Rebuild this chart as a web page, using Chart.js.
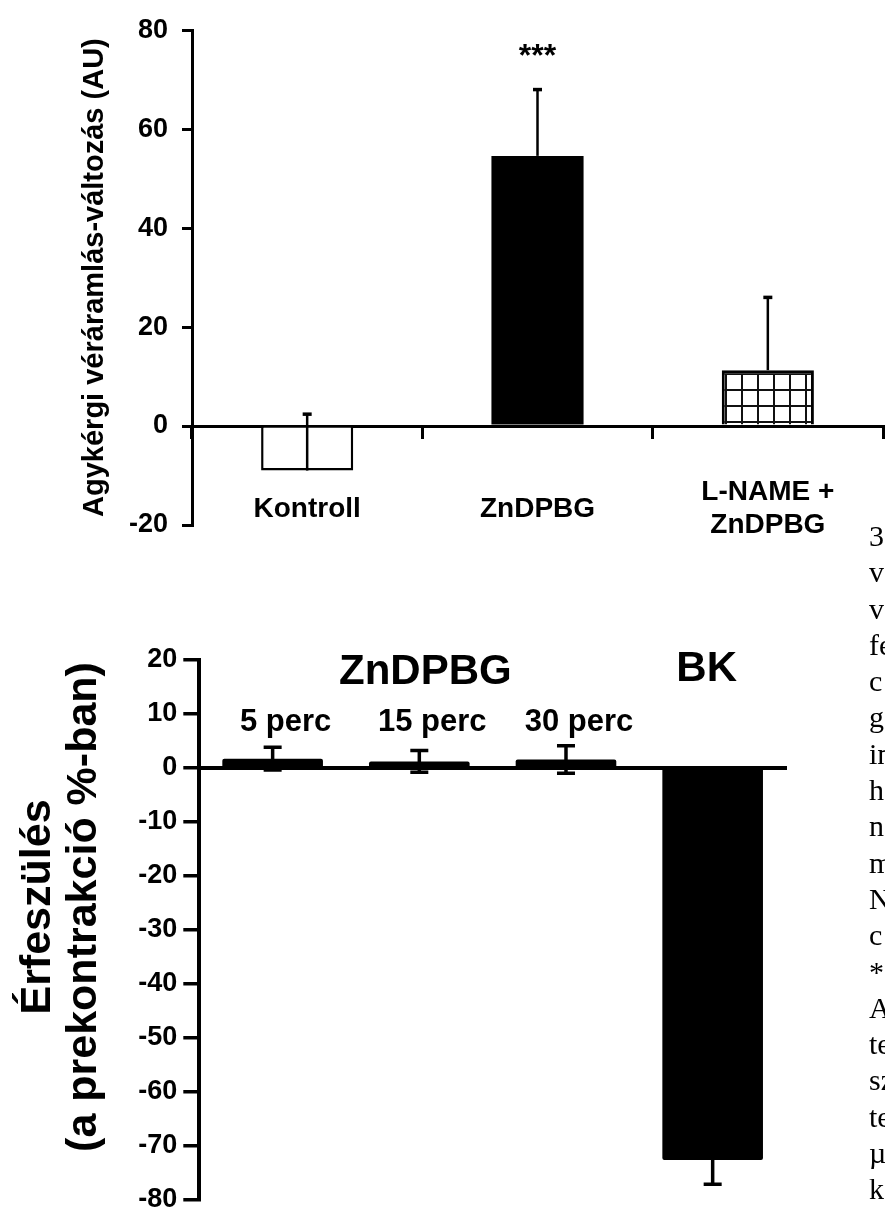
<!DOCTYPE html>
<html lang="hu">
<head>
<meta charset="utf-8">
<title>ZnDPBG – véráramlás és érfeszülés</title>
<script src="https://cdn.jsdelivr.net/npm/chart.js@4.4.1/dist/chart.umd.min.js"></script>
<style>
  html, body { margin: 0; padding: 0; background: #fff; overflow: hidden; }
  #page { position: relative; width: 885px; height: 1210px; overflow: hidden; }
  #top-chart    { position: absolute; left: 0; top: 0; }
  #bottom-chart { position: absolute; left: 0; top: 560px; }
  #side-text {
    position: absolute; left: 869px; top: 518px;
    font-family: "Liberation Serif", "Times New Roman", serif;
    font-size: 30px; line-height: 36.3px; color: #000; white-space: nowrap;
  }
</style>
</head>
<body>
<div id="page">
  <canvas id="top-chart" width="885" height="560"></canvas>
  <canvas id="bottom-chart" width="885" height="680"></canvas>
  <div id="side-text"></div>
</div>
<script>
// ── Data: top chart (cortical blood flow change) ───────────
const topLabels = ["Kontroll", "ZnDPBG", ["L-NAME +", "ZnDPBG"]];
const topValues = [-9.0, 54.6, 11.3];
const topErrors = [11.4, 13.4, 14.7];
const topSig    = ["", "***", ""];

// ── Data: bottom chart (vessel relaxation) ─────────────────
const botLabels    = ["5 perc", "15 perc", "30 perc", "BK"];
const botSubLabels = ["5 perc", "15 perc", "30 perc", ""];
const botValues    = [1.7, 1.2, 1.55, -72.7];
const botErrors    = [2.1, 2.0, 2.55, 4.5];
const botGroups    = [
    { text: "ZnDPBG", from: 0, to: 2 },
    { text: "BK",     from: 3, to: 3 },
];

// cut-off body text at the right page edge
const sideLines = ["3", "v", "v", "fe", "c", "g", "in", "h", "n", "m", "N",
                   "c", "*", "A", "te", "sz", "te", "µ", "k", "i"];

const FONT = "'Liberation Sans', Arial, Helvetica, sans-serif";
Chart.defaults.font.family = FONT;
Chart.defaults.color = "#000";

document.getElementById("side-text").innerHTML =
    sideLines.map(t => `<div>${t}</div>`).join("");

// ── Plugins ────────────────────────────────────────────────
const errorBars = {
    id: "errorBars",
    afterDatasetsDraw(chart, args, opts) {
        const { ctx, scales: { y } } = chart;
        const meta = chart.getDatasetMeta(0);
        const data = chart.data.datasets[0].data;
        ctx.save();
        ctx.strokeStyle = "#000";
        meta.data.forEach((bar, i) => {
            const v = data[i], e = opts.errors[i];
            const yHi = y.getPixelForValue(v + e);
            const yLo = y.getPixelForValue(opts.upOnly ? v : v - e);
            ctx.lineWidth = opts.lineWidth;
            ctx.beginPath();
            ctx.moveTo(bar.x, yLo);
            ctx.lineTo(bar.x, yHi);
            ctx.stroke();
            ctx.lineWidth = opts.capLine;
            ctx.beginPath();
            ctx.moveTo(bar.x - opts.cap / 2, yHi);
            ctx.lineTo(bar.x + opts.cap / 2, yHi);
            if (!opts.upOnly) {
                ctx.moveTo(bar.x - opts.cap / 2, yLo);
                ctx.lineTo(bar.x + opts.cap / 2, yLo);
            }
            ctx.stroke();
        });
        ctx.restore();
    },
};

const sigMarks = {
    id: "sigMarks",
    afterDatasetsDraw(chart, args, opts) {
        const { ctx, scales: { y } } = chart;
        const meta = chart.getDatasetMeta(0);
        const data = chart.data.datasets[0].data;
        ctx.save();
        ctx.font = opts.font;
        ctx.fillStyle = "#000";
        ctx.textAlign = "center";
        ctx.textBaseline = "alphabetic";
        opts.texts.forEach((t, i) => {
            if (!t) return;
            const top = y.getPixelForValue(data[i] + opts.errors[i]);
            ctx.fillText(t, meta.data[i].x, top - opts.gap);
        });
        ctx.restore();
    },
};

const groupLabels = {
    id: "groupLabels",
    afterDraw(chart, args, opts) {
        const { ctx, scales: { x, y } } = chart;
        const zero = y.getPixelForValue(0);
        ctx.save();
        ctx.fillStyle = "#000";
        ctx.textAlign = "center";
        ctx.textBaseline = "alphabetic";
        ctx.font = opts.subFont;
        opts.sub.forEach((t, i) => {
            if (t) ctx.fillText(t, x.getPixelForValue(i) + opts.subDx, zero + opts.subDy);
        });
        ctx.font = opts.groupFont;
        opts.groups.forEach((g, k) => {
            const cx = (x.getPixelForValue(g.from) + x.getPixelForValue(g.to)) / 2;
            ctx.fillText(g.text, cx + opts.groupDx[k], zero + opts.groupDy[k]);
        });
        ctx.restore();
    },
};

const sideTitle = {
    id: "sideTitle",
    afterDraw(chart, args, opts) {
        const { ctx } = chart;
        ctx.save();
        ctx.font = opts.font;
        ctx.fillStyle = "#000";
        ctx.textAlign = "center";
        ctx.textBaseline = "middle";
        opts.lines.forEach((t, i) => {
            ctx.save();
            ctx.translate(opts.x[i], opts.y);
            ctx.rotate(-Math.PI / 2);
            ctx.fillText(t, 0, 0);
            ctx.restore();
        });
        ctx.restore();
    },
};

// ── Grid hatch for the L-NAME bar ──────────────────────────
function gridPattern(canvas) {
    const c = document.createElement("canvas");
    c.width = 16; c.height = 16;
    const g = c.getContext("2d");
    g.fillStyle = "#fff"; g.fillRect(0, 0, 16, 16);
    g.fillStyle = "#111";
    g.fillRect(0, 0, 2, 16);
    g.fillRect(0, 0, 16, 2);
    const p = canvas.getContext("2d").createPattern(c, "repeat");
    if (p.setTransform) p.setTransform(new DOMMatrix().translate(5, 5));
    return p;
}

// x axis sits on the zero line and must not take layout space
function flatAxis(s) {
    s.height = 0;
    s.paddingLeft = 0;
    s.paddingRight = 0;
}

// ── Top chart ──────────────────────────────────────────────
const topCanvas = document.getElementById("top-chart");
new Chart(topCanvas, {
    type: "bar",
    data: {
        labels: topLabels,
        datasets: [{
            data: topValues,
            backgroundColor: ["#fff", "#000", gridPattern(topCanvas)],
            borderColor: "#000",
            borderWidth: [2.5, 0, 3],
            barPercentage: 0.4,
            categoryPercentage: 1,
        }],
    },
    options: {
        responsive: false,
        animation: false,
        layout: { padding: { left: 0, top: 26.5, right: 2, bottom: 35 } },
        plugins: {
            legend: { display: false },
            tooltip: { enabled: false },
            errorBars: { errors: topErrors, upOnly: true, cap: 9, lineWidth: 2.5, capLine: 3.5 },
            sigMarks: { texts: topSig, errors: topErrors, gap: 24, font: `bold 32px ${FONT}` },
        },
        scales: {
            x: {
                position: { y: 0 },
                offset: true,
                afterFit: flatAxis,
                grid: {
                    display: true, offset: true, drawOnChartArea: false,
                    drawTicks: true, tickLength: 11, lineWidth: 3, color: "#000",
                },
                border: { display: true, color: "#000", width: 3 },
                ticks: {
                    color: "#000",
                    font: { size: 28, weight: "bold", lineHeight: 1.2 },
                    padding: 55,
                    crossAlign: "center",
                    autoSkip: false,
                    maxRotation: 0,
                },
            },
            y: {
                min: -20,
                max: 80,
                afterFit: (s) => { s.width = 192; },
                ticks: { stepSize: 20, color: "#000", font: { size: 27, weight: "bold" }, padding: 14 },
                grid: { drawOnChartArea: false, tickLength: 10, lineWidth: 3, color: "#000" },
                border: { color: "#000", width: 3 },
                title: {
                    display: true,
                    text: "Agykérgi véráramlás-változás (AU)",
                    color: "#000",
                    font: { size: 29, weight: "bold", lineHeight: 1.2 },
                    padding: { top: 78, bottom: 0 },
                },
            },
        },
    },
    plugins: [errorBars, sigMarks],
});

// ── Bottom chart ───────────────────────────────────────────
new Chart(document.getElementById("bottom-chart"), {
    type: "bar",
    data: {
        labels: botLabels,
        datasets: [{
            data: botValues,
            backgroundColor: "#000",
            borderWidth: 0,
            borderRadius: 2,
            barPercentage: 0.686,
            categoryPercentage: 1,
        }],
    },
    options: {
        responsive: false,
        animation: false,
        layout: { padding: { left: 0, top: 100, right: 99, bottom: 40.7 } },
        plugins: {
            legend: { display: false },
            tooltip: { enabled: false },
            errorBars: { errors: botErrors, upOnly: false, cap: 18, lineWidth: 3.5, capLine: 3.5 },
            groupLabels: {
                sub: botSubLabels, subDx: 13, subDy: -37,
                subFont: `bold 31px ${FONT}`,
                groups: botGroups, groupDx: [6, -6], groupDy: [-84, -87],
                groupFont: `bold 42px ${FONT}`,
            },
            sideTitle: {
                lines: ["Érfeszülés", "(a prekontrakció %-ban)"],
                x: [38.4, 84.4], y: 347,
                font: `bold 43px ${FONT}`,
            },
        },
        scales: {
            x: {
                position: { y: 0 },
                offset: true,
                afterFit: flatAxis,
                grid: { display: true, drawOnChartArea: false, drawTicks: false, color: "#000" },
                border: { display: true, color: "#000", width: 4 },
                ticks: { display: false },
            },
            y: {
                min: -80,
                max: 20,
                afterFit: (s) => { s.width = 199.3; },
                ticks: { stepSize: 10, color: "#000", font: { size: 27, weight: "bold" }, padding: 6 },
                grid: { drawOnChartArea: false, tickLength: 16, lineWidth: 3.5, color: "#000" },
                border: { color: "#000", width: 4 },
            },
        },
    },
    plugins: [errorBars, groupLabels, sideTitle],
});
</script>
</body>
</html>
